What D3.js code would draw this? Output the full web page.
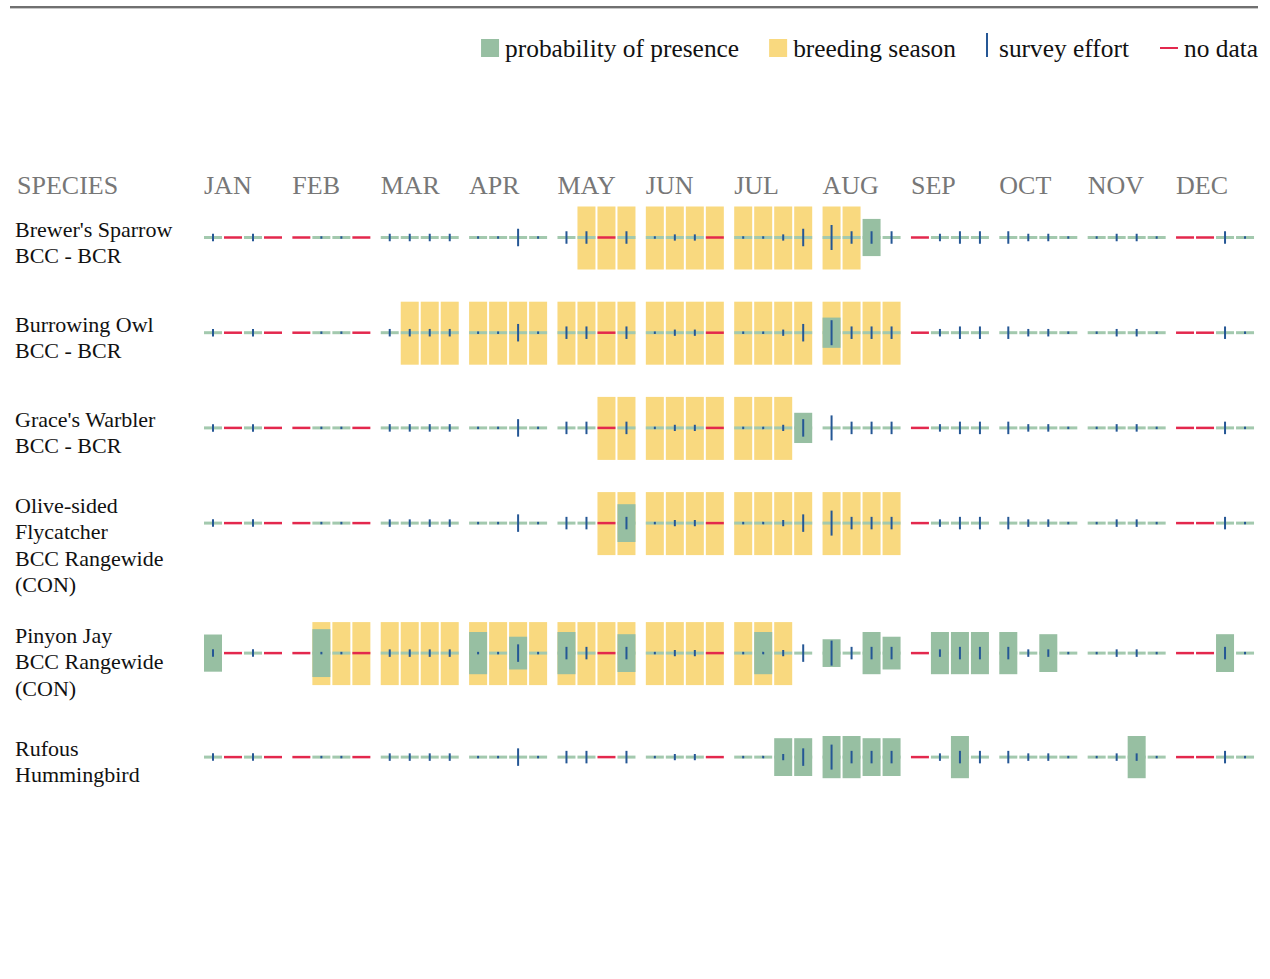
<!DOCTYPE html>
<html>
<head>
<meta charset="utf-8">
<script src="https://cdn.jsdelivr.net/npm/d3@7"></script>
<style>
  body { margin: 0; background: #fff; }
  svg { display: block; font-family: "Liberation Serif", "Times New Roman", serif; }
</style>
</head>
<body>
<div id="chart"></div>
<script>
// months and weeks (4 per month)
const months = ["JAN", "FEB", "MAR", "APR", "MAY", "JUN", "JUL", "AUG", "SEP", "OCT", "NOV", "DEC"];

// species label lines
const speciesLabels = [
  ["Brewer's Sparrow", "BCC - BCR"],
  ["Burrowing Owl", "BCC - BCR"],
  ["Grace's Warbler", "BCC - BCR"],
  ["Olive-sided", "Flycatcher", "BCC Rangewide", "(CON)"],
  ["Pinyon Jay", "BCC Rangewide", "(CON)"],
  ["Rufous", "Hummingbird"]
];

// survey effort per week (0..10), 0 where there is no data
const surveyEffort = [
  3, 0, 3, 0,   0, 1, 1, 0,   3, 3, 3, 3,   1, 1, 7, 1,
  5, 5, 0, 5,   1, 2.5, 2.5, 0,   1, 1, 2.5, 7,   10, 5, 5, 5,
  0, 3, 5, 5,   5, 3, 3, 1,   1, 3, 3, 1,   0, 0, 5, 1
];
// 1 = no data for that week
const noData = [
  0, 1, 0, 1,   1, 0, 0, 1,   0, 0, 0, 0,   0, 0, 0, 0,
  0, 0, 1, 0,   0, 0, 0, 1,   0, 0, 0, 0,   0, 0, 0, 0,
  1, 0, 0, 0,   0, 0, 0, 0,   0, 0, 0, 0,   1, 1, 0, 0
];

// probability of presence per week (0..10)
const probBrewers = [
  0,0,0,0, 0,0,0,0, 0,0,0,0, 0,0,0,0, 0,0,0,0, 0,0,0,0, 0,0,0,0, 0,0,5.9,0,
  0,0,0,0, 0,0,0,0, 0,0,0,0, 0,0,0,0
];
const probBurrowing = [
  0,0,0,0, 0,0,0,0, 0,0,0,0, 0,0,0,0, 0,0,0,0, 0,0,0,0, 0,0,0,0, 4.8,0,0,0,
  0,0,0,0, 0,0,0,0, 0,0,0,0, 0,0,0,0
];
const probGraces = [
  0,0,0,0, 0,0,0,0, 0,0,0,0, 0,0,0,0, 0,0,0,0, 0,0,0,0, 0,0,0,4.8, 0,0,0,0,
  0,0,0,0, 0,0,0,0, 0,0,0,0, 0,0,0,0
];
const probOliveSided = [
  0,0,0,0, 0,0,0,0, 0,0,0,0, 0,0,0,0, 0,0,0,6.0, 0,0,0,0, 0,0,0,0, 0,0,0,0,
  0,0,0,0, 0,0,0,0, 0,0,0,0, 0,0,0,0
];
const probPinyon = [
  5.9,0,0,0, 0,7.6,0,0, 0,0,0,0, 6.7,0,5.2,0, 6.7,0,0,6.0, 0,0,0,0, 0,6.7,0,0, 4.4,0,6.7,5.2,
  0,6.7,6.7,6.7, 6.7,0,6.0,0, 0,0,0,0, 0,0,6.0,0
];
const probRufous = [
  0,0,0,0, 0,0,0,0, 0,0,0,0, 0,0,0,0, 0,0,0,0, 0,0,0,0, 0,0,6.0,6.0, 6.7,6.7,6.0,6.0,
  0,0,6.7,0, 0,0,0,0, 0,0,6.7,0, 0,0,0,0
];
const probabilities = [probBrewers, probBurrowing, probGraces, probOliveSided, probPinyon, probRufous];

// breeding season, first and last week index (inclusive), null = none
const breedingStart = [17, 9, 18, 18, 5, null];
const breedingEnd   = [29, 31, 26, 31, 26, null];

const legendItems = ["probability of presence", "breeding season", "survey effort", "no data"];

// ---------------------------------------------------------------
const width = 1270, height = 979;
const colGreen = "#97bfa2", colLine = "#a3c9ae", colYellow = "#f9d97f",
      colBlue = "#255795", colRed = "#e3284d", colGrey = "#777";

const svg = d3.select("#chart").append("svg")
  .attr("width", width).attr("height", height);

// top rule
svg.append("rect").attr("x", 10).attr("y", 6).attr("width", 1248).attr("height", 2).attr("fill", "#707070");
svg.append("rect").attr("x", 10).attr("y", 8).attr("width", 1248).attr("height", 1).attr("fill", "#c8c8c8");

const monthX = d3.scaleBand().domain(months).range([204, 1264.4]);
const weekX = d3.scaleBand().domain([0, 1, 2, 3]).range([0, 78]).paddingInner(0.1);
const bw = weekX.bandwidth();
const weekPos = i => monthX(months[Math.floor(i / 4)]) + weekX(i % 4);

const probH = d3.scaleLinear().domain([0, 10]).range([0, 63]);
const effortH = d3.scaleLinear().domain([0, 10]).range([0, 25]);

// legend, right aligned
const legend = svg.append("g");
let lx = 1258;
const legendBase = 57;
const itemsRev = legendItems.map((t, i) => ({ t, i })).reverse();
itemsRev.forEach(({ t, i }) => {
  const txt = legend.append("text").attr("y", legendBase).attr("font-size", 25.4).attr("fill", "#111").text(t);
  const w = txt.node().getComputedTextLength();
  lx -= w;
  txt.attr("x", lx);
  if (i === 0 || i === 1) {
    legend.append("rect").attr("x", lx - 24).attr("y", 39).attr("width", 18).attr("height", 18)
      .attr("fill", i === 0 ? colGreen : colYellow);
    lx -= 24 + 30;
  } else if (i === 2) {
    legend.append("line").attr("x1", lx - 12).attr("x2", lx - 12).attr("y1", 33).attr("y2", 57)
      .attr("stroke", colBlue).attr("stroke-width", 2);
    lx -= 12 + 31;
  } else {
    legend.append("line").attr("x1", lx - 24).attr("x2", lx - 6).attr("y1", 48).attr("y2", 48)
      .attr("stroke", colRed).attr("stroke-width", 2);
    lx -= 24 + 31;
  }
});

// header
svg.append("text").attr("x", 17).attr("y", 194).attr("font-size", 26).attr("fill", colGrey).text("SPECIES");
svg.selectAll("text.month").data(months).join("text")
  .attr("class", "month")
  .attr("x", d => monthX(d))
  .attr("y", 194)
  .attr("font-size", 26)
  .attr("fill", colGrey)
  .text(d => d);

// row layout: row height grows with label lines
const rowCenters = [];
let cy = 237.5;
speciesLabels.forEach(lines => {
  rowCenters.push(cy);
  cy += Math.max(95.2, (lines.length + 1) * 26);
});

const weeks = d3.range(48);

speciesLabels.forEach((lines, r) => {
  const c = rowCenters[r];
  const g = svg.append("g");

  // label
  const firstBase = lines.length > 2 ? c - 10 : c - 1;
  g.selectAll("text").data(lines).join("text")
    .attr("x", 15)
    .attr("y", (d, k) => firstBase + k * 26.3)
    .attr("font-size", 22)
    .attr("fill", "#111")
    .text(d => d);

  // breeding season
  const bWeeks = breedingStart[r] === null ? [] : d3.range(breedingStart[r], breedingEnd[r] + 1);
  g.selectAll("rect.breed").data(bWeeks).join("rect")
    .attr("class", "breed")
    .attr("x", d => weekPos(d))
    .attr("y", c - 31)
    .attr("width", bw)
    .attr("height", 63)
    .attr("fill", colYellow);

  // baseline per week
  g.selectAll("line.base").data(weeks).join("line")
    .attr("class", "base")
    .attr("x1", d => weekPos(d))
    .attr("x2", d => weekPos(d) + bw)
    .attr("y1", c).attr("y2", c)
    .attr("stroke", d => noData[d] ? colRed : colLine)
    .attr("stroke-width", d => noData[d] ? 2.5 : 3);

  // probability bars
  const probs = probabilities[r];
  g.selectAll("rect.prob").data(weeks.filter(d => probs[d] > 0)).join("rect")
    .attr("class", "prob")
    .attr("x", d => weekPos(d))
    .attr("y", d => c - probH(probs[d]) / 2)
    .attr("width", bw)
    .attr("height", d => probH(probs[d]))
    .attr("fill", colGreen);

  // survey effort ticks
  g.selectAll("line.effort").data(weeks.filter(d => !noData[d])).join("line")
    .attr("class", "effort")
    .attr("x1", d => weekPos(d) + bw / 2)
    .attr("x2", d => weekPos(d) + bw / 2)
    .attr("y1", d => c - Math.max(2, effortH(surveyEffort[d] || 1)) / 2)
    .attr("y2", d => c + Math.max(2, effortH(surveyEffort[d] || 1)) / 2)
    .attr("stroke", colBlue)
    .attr("stroke-width", 2);
});
</script>
</body>
</html>
